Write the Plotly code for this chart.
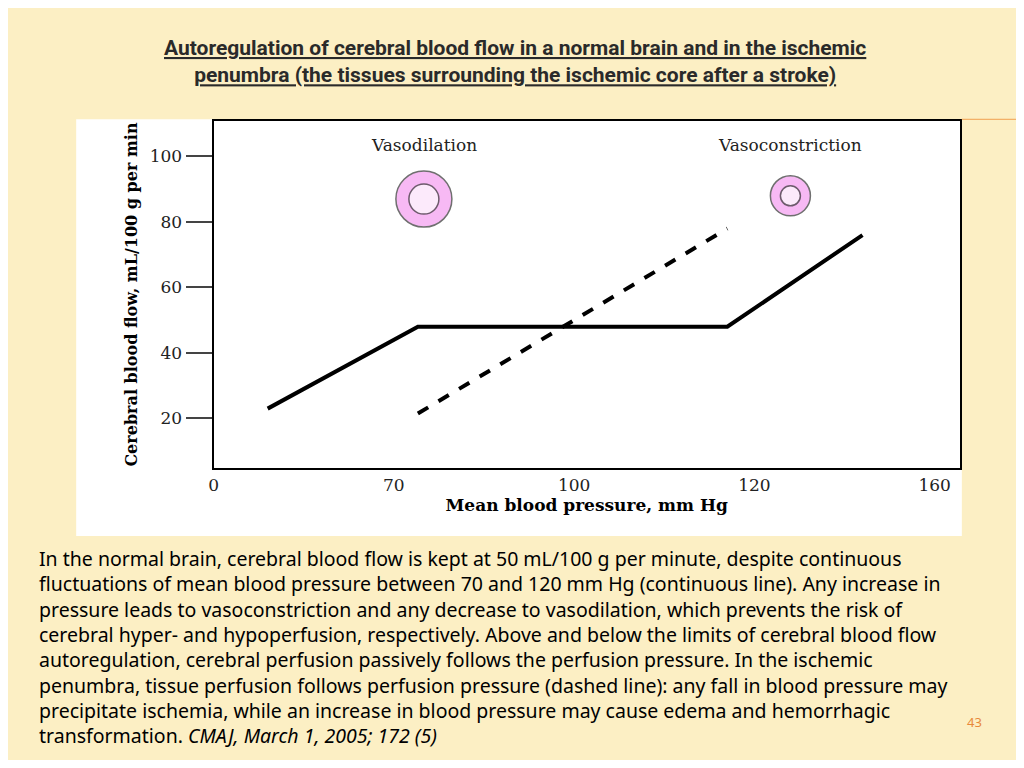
import numpy as np
import plotly.graph_objects as go

# axis of the source picture is not linear in mmHg: ticks are evenly spaced
tick_mmhg = [0, 70, 100, 120, 160]
tick_pos = [0, 1, 2, 3, 4]
y_ticks = [20, 40, 60, 80, 100]

normal_x = [21, 74, 117, 144]
normal_y = [23, 48, 48, 76]
penumbra_x = [74, 117]
penumbra_y = [21.5, 78]

ring_labels = ["Vasodilation", "Vasoconstriction"]
ring_x = [75, 128]
ring_y = [87, 88]
ring_outer = [56, 40]
ring_inner = [30, 20]


def pos(v):
    return np.interp(v, tick_mmhg, tick_pos)


fig = go.Figure()
fig.add_trace(go.Scatter(x=pos(normal_x), y=normal_y, mode="lines",
                         line=dict(color="black", width=4)))
fig.add_trace(go.Scatter(x=pos(penumbra_x), y=penumbra_y, mode="lines",
                         line=dict(color="black", width=4, dash="dash")))
fig.add_trace(go.Scatter(x=pos(ring_x), y=ring_y, mode="markers",
                         marker=dict(size=ring_outer, color="#f49cf0",
                                     line=dict(color="#333", width=1.5))))
fig.add_trace(go.Scatter(x=pos(ring_x), y=ring_y, mode="markers",
                         marker=dict(size=ring_inner, color="white",
                                     line=dict(color="#333", width=1.5))))
for lab, xv in zip(ring_labels, ring_x):
    fig.add_annotation(x=pos(xv), y=103.5, text=lab, showarrow=False,
                       font=dict(family="DejaVu Serif", size=17, color="#222"))

serif = dict(family="DejaVu Serif", size=17, color="#222")
fig.update_layout(
    width=1008, height=752, margin=dict(l=0, r=0, t=0, b=0),
    paper_bgcolor="#fcefc4", plot_bgcolor="white", showlegend=False,
    xaxis=dict(domain=[0.2, 0.944], range=[0, 4.14], tickvals=tick_pos,
               ticktext=[str(t) for t in tick_mmhg], showgrid=False, zeroline=False,
               showline=True, mirror=True, linecolor="black", linewidth=2,
               ticks="", tickfont=serif,
               title=dict(text="<b>Mean blood pressure, mm Hg</b>", standoff=4,
                          font=dict(family="DejaVu Serif", size=17, color="black"))),
    yaxis=dict(domain=[0.388, 0.85], range=[4.8, 110.9], tickvals=y_ticks,
               showgrid=False, zeroline=False, showline=True, mirror=True,
               linecolor="black", linewidth=2, ticks="outside", ticklen=26,
               tickwidth=1.5, tickfont=serif,
               title=dict(text="<b>Cerebral blood flow, mL/100 g per min</b>", standoff=8,
                          font=dict(family="DejaVu Serif", size=16, color="black"))),
    shapes=[dict(type="rect", xref="paper", yref="paper", x0=0.063, x1=0.946,
                 y0=0.298, y1=0.852, fillcolor="white", line=dict(width=0), layer="below"),
            dict(type="line", xref="paper", yref="paper", x0=0.946, x1=1,
                 y0=0.852, y1=0.852, line=dict(color="#f0a050", width=1))],
)

fig.add_annotation(xref="paper", yref="paper", x=0.5, y=0.965, showarrow=False,
                   text="<u><b>Autoregulation of cerebral blood flow in a normal brain and in the ischemic</b></u><br>"
                        "<u><b>penumbra (the tissues surrounding the ischemic core after a stroke)</b></u>",
                   font=dict(family="Roboto", size=21, color="#2a2a2a"))

para = ("In the normal brain, cerebral blood flow is kept at 50 mL/100 g per minute, despite continuous<br>"
        "fluctuations of mean blood pressure between 70 and 120 mm Hg (continuous line). Any increase in<br>"
        "pressure leads to vasoconstriction and any decrease to vasodilation, which prevents the risk of<br>"
        "cerebral hyper- and hypoperfusion, respectively. Above and below the limits of cerebral blood flow<br>"
        "autoregulation, cerebral perfusion passively follows the perfusion pressure. In the ischemic<br>"
        "penumbra, tissue perfusion follows perfusion pressure (dashed line): any fall in blood pressure may<br>"
        "precipitate ischemia, while an increase in blood pressure may cause edema and hemorrhagic<br>"
        "transformation. <i>CMAJ, March 1, 2005; 172 (5)</i>")
fig.add_annotation(xref="paper", yref="paper", x=0.024, y=0.288, xanchor="left", yanchor="top",
                   showarrow=False, align="left", text=para,
                   font=dict(family="Noto Sans", size=19.5, color="black"))
fig.add_annotation(xref="paper", yref="paper", x=0.968, y=0.036, showarrow=False,
                   text="43", font=dict(family="Noto Sans", size=13, color="#e8893a"))

fig.write_html("out.html")
